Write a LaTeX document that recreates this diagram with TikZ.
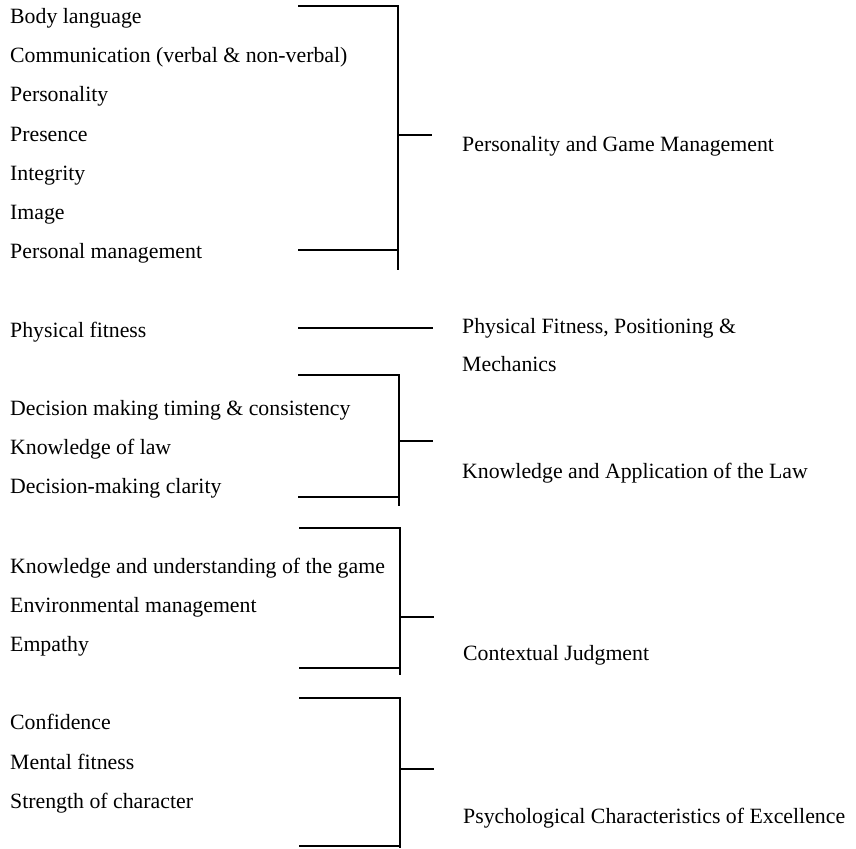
\documentclass[tikz,border=0pt]{standalone}
\usepackage{fontspec}
\setmainfont{Liberation Serif}
\usepackage{tikz}
\tikzset{
  trait/.style={anchor=base west, inner sep=0pt, font=\fontsize{21.8}{38}\selectfont},
  factor/.style={trait, align=left},
  brk/.style={line width=1.5pt}
}

\begin{document}
\begin{tikzpicture}[x=1pt, y=-1pt]
\useasboundingbox (0,0) rectangle (856,848);

% Personality and game management
\foreach \t/\y [count=\k] in {Body language/24, Communication (verbal \& non-verbal)/63,
    Personality/102, Presence/141, Integrity/180, Image/219, Personal management/258}
  \node[trait] (pg\k) at (10,\y) {\t};
\node[factor] (pgm) at (462,151) {Personality and Game Management};
\coordinate (pgT) at (298,6);   \coordinate (pgB) at (298,250);
\coordinate (pgV) at (398,270); \coordinate (pgS) at (432,135);
\draw[brk] (pgT) -- (pgT -| pgV) -- (pgV);
\draw[brk] (pgB) -- (pgB -| pgV);
\draw[brk] (pgS -| pgV) -- (pgS);

% Physical fitness (two-line label: base is the last line)
\node[trait] (pf1) at (10,337) {Physical fitness};
\node[factor] (pfm) at (462,371) {Physical Fitness, Positioning \&\\Mechanics};
\coordinate (pfL) at (298,328); \coordinate (pfR) at (433,328);
\draw[brk] (pfL) -- (pfR);

% Knowledge and application of the law
\foreach \t/\y [count=\k] in {Decision making timing \& consistency/415,
    Knowledge of law/454, Decision-making clarity/493}
  \node[trait] (kl\k) at (10,\y) {\t};
\node[factor] (klm) at (462,478) {Knowledge and Application of the Law};
\coordinate (klT) at (298,375); \coordinate (klB) at (298,497);
\coordinate (klV) at (399,506); \coordinate (klS) at (433,441);
\draw[brk] (klT) -- (klT -| klV) -- (klV);
\draw[brk] (klB) -- (klB -| klV);
\draw[brk] (klS -| klV) -- (klS);

% Contextual judgment
\foreach \t/\y [count=\k] in {Knowledge and understanding of the game/573,
    Environmental management/612, Empathy/651}
  \node[trait] (cj\k) at (10,\y) {\t};
\node[factor] (cjm) at (463,660) {Contextual Judgment};
\coordinate (cjT) at (299,528); \coordinate (cjB) at (299,668);
\coordinate (cjV) at (400,675); \coordinate (cjS) at (434,617);
\draw[brk] (cjT) -- (cjT -| cjV) -- (cjV);
\draw[brk] (cjB) -- (cjB -| cjV);
\draw[brk] (cjS -| cjV) -- (cjS);

% Psychological characteristics
\foreach \t/\y [count=\k] in {Confidence/729, Mental fitness/769, Strength of character/808}
  \node[trait] (ps\k) at (10,\y) {\t};
\node[factor] (psm) at (463,823) {Psychological Characteristics of Excellence};
\coordinate (psT) at (299,698); \coordinate (psB) at (299,846);
\coordinate (psV) at (400,848); \coordinate (psS) at (434,769);
\draw[brk] (psT) -- (psT -| psV) -- (psV);
\draw[brk] (psB) -- (psB -| psV);
\draw[brk] (psS -| psV) -- (psS);
\end{tikzpicture}
\end{document}
